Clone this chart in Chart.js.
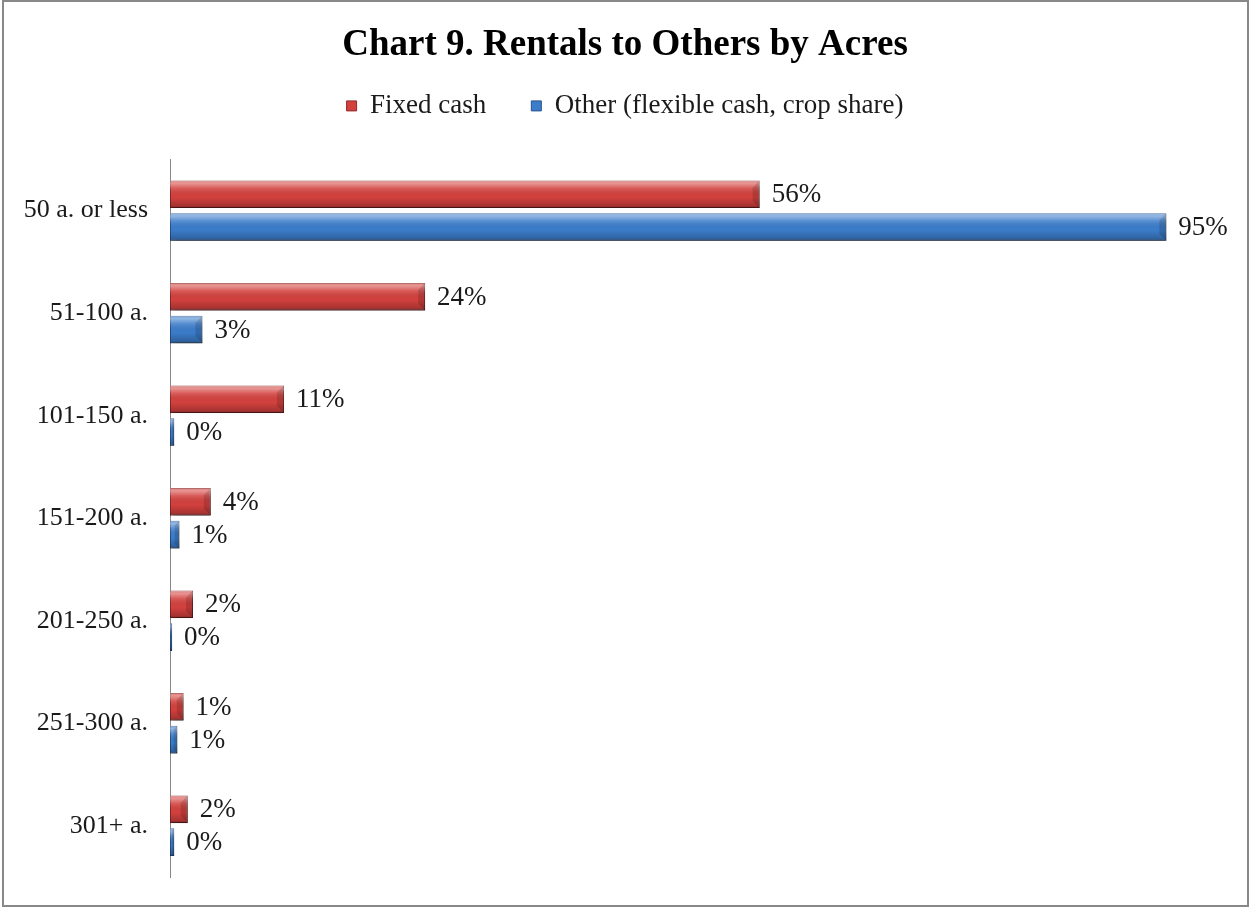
<!DOCTYPE html>
<html>
<head>
<meta charset="utf-8">
<title>Chart 9. Rentals to Others by Acres</title>
<script src="https://cdn.jsdelivr.net/npm/chart.js@4/dist/chart.umd.min.js"></script>
<style>
  html, body { margin: 0; padding: 0; background: #fff; }
  canvas { display: block; }
</style>
</head>
<body>
<canvas id="chart" width="1250" height="910"></canvas>
<script>
const categories = ['50 a. or less', '51-100 a.', '101-150 a.', '151-200 a.', '201-250 a.', '251-300 a.', '301+ a.'];
const seriesNames = ['Fixed cash', 'Other (flexible cash, crop share)'];
const fixedCash = [56.4, 24.4, 10.9, 3.9, 2.2, 1.3, 1.7];
const otherRent = [95.3, 3.1, 0.4, 0.9, 0.2, 0.7, 0.4];

const serif = "'Liberation Serif', 'Times New Roman', serif";

// outer frame round the whole chart
const framePlugin = {
    id: 'frame',
    beforeDraw(chart) {
        const ctx = chart.ctx;
        ctx.save();
        ctx.fillStyle = '#fff';
        ctx.fillRect(0, 0, chart.width, chart.height);
        ctx.strokeStyle = '#888';
        ctx.lineWidth = 2;
        ctx.strokeRect(3, 1, chart.width - 5, chart.height - 5);
        ctx.restore();
    }
};

// soft drop shadow under the bars plus a glossy bevel on top
const bevelPlugin = {
    id: 'bevel',
    beforeDatasetDraw(chart) {
        const ctx = chart.ctx;
        ctx.save();
        ctx.shadowColor = 'rgba(0,0,0,0.35)';
        ctx.shadowBlur = 5;
        ctx.shadowOffsetX = 2;
        ctx.shadowOffsetY = 3;
    },
    afterDatasetDraw(chart, args) {
        const ctx = chart.ctx;
        ctx.restore();
        args.meta.data.forEach(function(bar) {
            const top = bar.y - bar.height / 2;
            const left = Math.min(bar.base, bar.x);
            const w = Math.abs(bar.x - bar.base);
            const h = bar.height;
            if (w < 1) return;
            const g = ctx.createLinearGradient(0, top, 0, top + h);
            g.addColorStop(0, 'rgba(255,255,255,0.3)');
            g.addColorStop(0.1, 'rgba(255,255,255,0.45)');
            g.addColorStop(0.28, 'rgba(255,255,255,0.15)');
            g.addColorStop(0.6, 'rgba(0,0,0,0)');
            g.addColorStop(0.9, 'rgba(0,0,0,0.2)');
            g.addColorStop(1, 'rgba(0,0,0,0.38)');
            ctx.save();
            ctx.fillStyle = g;
            ctx.fillRect(left, top, w, h);
            // bevelled end
            const cap = Math.min(7, w / 2);
            ctx.fillStyle = 'rgba(0,0,0,0.14)';
            ctx.beginPath();
            ctx.moveTo(left + w, top);
            ctx.lineTo(left + w - cap, top + cap);
            ctx.lineTo(left + w - cap, top + h - cap);
            ctx.lineTo(left + w, top + h);
            ctx.closePath();
            ctx.fill();
            ctx.restore();
        });
    }
};

// percentage labels at the end of each bar
const valueLabels = {
    id: 'valueLabels',
    afterDatasetsDraw(chart) {
        const ctx = chart.ctx;
        ctx.save();
        ctx.font = '27px ' + serif;
        ctx.fillStyle = '#1a1a1a';
        ctx.textAlign = 'left';
        ctx.textBaseline = 'middle';
        chart.data.datasets.forEach(function(ds, i) {
            chart.getDatasetMeta(i).data.forEach(function(bar, j) {
                ctx.fillText(Math.round(ds.data[j]) + '%', bar.x + 12, bar.y + 1);
            });
        });
        ctx.restore();
    }
};

new Chart(document.getElementById('chart'), {
    type: 'bar',
    data: {
        labels: categories,
        datasets: [
            {
                label: seriesNames[0],
                data: fixedCash,
                backgroundColor: '#D3413E',
                borderColor: '#922A28',
                borderWidth: 1,
                borderSkipped: false,
                categoryPercentage: 0.64,
                barPercentage: 0.84,
            },
            {
                label: seriesNames[1],
                data: otherRent,
                backgroundColor: '#3B7DCB',
                borderColor: '#27538E',
                borderWidth: 1,
                borderSkipped: false,
                categoryPercentage: 0.64,
                barPercentage: 0.84,
            },
        ],
    },
    options: {
        indexAxis: 'y',
        responsive: false,
        animation: false,
        layout: { padding: { left: 0, right: 0, top: 0, bottom: 33 } },
        plugins: {
            title: {
                display: true,
                text: 'Chart 9. Rentals to Others by Acres',
                color: '#000',
                font: { family: serif, size: 37, weight: 'bold' },
                padding: { top: 23, bottom: -20 },
            },
            legend: {
                display: true,
                position: 'top',
                labels: {
                    color: '#1a1a1a',
                    font: { family: serif, size: 27 },
                    boxWidth: 10,
                    boxHeight: 10,
                    padding: 45,
                },
            },
            tooltip: { enabled: false },
        },
        scales: {
            x: {
                position: 'top',
                min: 0,
                max: 103.3,
                ticks: { display: false },
                grid: { display: false },
                border: { display: false },
                afterFit(scale) { scale.height = 30; },
            },
            y: {
                grid: { display: true, drawOnChartArea: false, drawTicks: false },
                border: { display: true, color: '#888', width: 1 },
                ticks: {
                    color: '#1a1a1a',
                    font: { family: serif, size: 26 },
                    padding: 22,
                },
                afterFit(scale) {
                    scale.width = 170;
                    scale.paddingTop = 0;
                    scale.paddingBottom = 0;
                },
            },
        },
    },
    plugins: [framePlugin, bevelPlugin, valueLabels],
});
</script>
</body>
</html>
